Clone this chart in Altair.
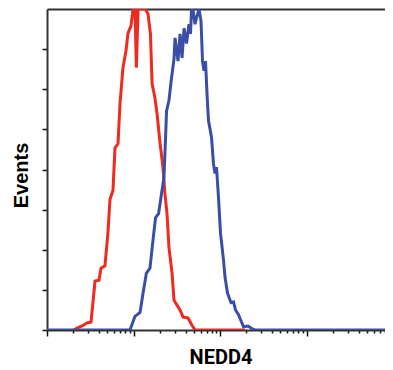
import altair as alt
import pandas as pd

# Red histogram (isotype / negative control)
red_x = [2.05, 2.22, 2.54, 2.90, 3.23, 3.59, 3.99, 4.21, 4.68, 5.07, 5.35, 5.79, 6.11, 6.62,
         6.98, 7.56, 8.19, 8.64, 9.36, 9.87, 10.4, 10.8, 11.3, 13.6, 14.7, 15.7, 16.4, 17.7,
         18.7, 20.3, 21.9, 23.1, 24.4, 25.7, 27.9, 29.4, 31.8, 34.5, 37.4, 42.7, 47.5, 51.4, 194]
red_y = [0, 2.5, 5, 8.7, 10, 61, 62, 77, 80, 122, 163, 174, 227, 232,
         282, 327, 348, 370, 379, 400, 400, 327, 400, 400, 394, 369, 307, 289,
         270, 232, 203, 170, 145, 103, 71, 37, 31, 25, 16, 15, 6, 0, 0]

# Blue histogram (NEDD4 stained)
blue_x = [1, 9.11, 10.4, 11.9, 12.9, 14.1, 15.5, 16.8, 18.0, 19.5, 21.1, 22.5, 23.4, 24.1,
          25.7, 27.5, 29.4, 30.2, 32.7, 34.5, 36.4, 38.4, 41.0, 43.8, 45.6, 46.8, 48.7, 51.4,
          53.5, 57.2, 60.3, 62.8, 65.3, 68.0, 70.8, 73.6, 79.8, 84.1, 87.5, 91.1, 96.1, 101.3,
          109.8, 114.2, 122.1, 134.1, 143.2, 151.1, 163.7, 177.3, 187.0, 210.8, 228.3, 253.9, 8080]
blue_y = [0, 0, 17, 22, 46, 71, 77, 112, 140, 145, 170, 190, 236, 273,
          286, 314, 338, 364, 335, 369, 339, 376, 357, 381, 369, 398, 400, 381,
          389, 400, 385, 335, 323, 335, 294, 261, 240, 207, 195, 203, 165, 121,
          87, 66, 46, 34, 35, 25, 19, 10, 4, 5, 2.5, 0, 0]

x_ticks = [m * 10 ** d for d in range(4) for m in range(1, 10) if m * 10 ** d <= 8000]
y_ticks = [0, 50, 100, 150, 200, 250, 300, 350]

red_df = pd.DataFrame({"intensity": red_x, "events": red_y})
blue_df = pd.DataFrame({"intensity": blue_x, "events": blue_y})

xscale = alt.Scale(type="log", domain=[1, 8080], nice=False)
yscale = alt.Scale(domain=[0, 400], nice=False)

yaxis = alt.Axis(values=y_ticks, labels=False, tickSize=5, tickWidth=1.5, tickColor="#111111",
                 domainColor="#333333", domainWidth=2, grid=False,
                 title="Events", titleFont="Liberation Sans", titleFontSize=20,
                 titleFontWeight="bold", titleColor="#000000",
                 titleX=-20, titleY=166, titleBaseline="alphabetic")

xaxis_bottom = alt.Axis(values=x_ticks, labels=False,
                        tickSize={"condition": {"test": "indexof([1,10,100,1000], datum.value) >= 0", "value": 6}, "value": 3},
                        tickWidth=1.5, tickColor="#111111",
                        domainColor="#333333", domainWidth=2, grid=False,
                        title="NEDD4", titleFont="Roboto",
                        titleFontSize=20, titleFontWeight="bold", titleColor="#000000",
                        titleX=173.5, titleY=33, titleBaseline="alphabetic", titleAlign="center")

xaxis_top = alt.Axis(orient="top", labels=False, ticks=False, grid=False, title="",
                     domainColor="#333333", domainWidth=2)

red = alt.Chart(red_df).mark_line(color="#EF2A20", strokeWidth=3, clip=True).encode(
    x=alt.X("intensity:Q", scale=xscale, axis=xaxis_bottom),
    y=alt.Y("events:Q", scale=yscale, axis=yaxis),
)

blue = alt.Chart(blue_df).mark_line(color="#3A4EA7", strokeWidth=3, clip=True).encode(
    x=alt.X("intensity:Q", scale=xscale, axis=xaxis_top),
    y=alt.Y("events:Q", scale=yscale, axis=yaxis),
)

chart = alt.layer(red, blue).resolve_axis(x="independent").properties(
    width=338, height=321,
    padding={"left": 39, "top": 1, "right": 0, "bottom": 40},
    autosize=alt.AutoSizeParams(type="none"),
    background="white",
).configure_view(stroke=None)

chart.save("out.html", embed_options={"renderer": "svg", "actions": False})
